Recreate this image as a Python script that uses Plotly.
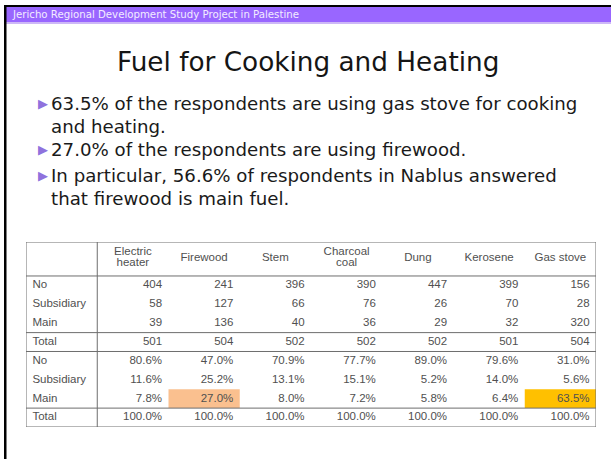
import plotly.graph_objects as go

W, H = 611, 459

# ---------------- data ----------------
banner_text = "Jericho Regional Development Study Project in Palestine"
title_text = "Fuel for Cooking and Heating"
bullet_lines = [
    ("63.5% of the respondents are using gas stove for cooking", True),
    ("and heating.", False),
    ("27.0% of the respondents are using firewood.", True),
    ("In particular, 56.6% of respondents in Nablus answered", True),
    ("that firewood is main fuel.", False),
]

fuels = ["Electric<br>heater", "Firewood", "Stem", "Charcoal<br>coal", "Dung", "Kerosene", "Gas stove"]
row_labels = ["No", "Subsidiary", "Main", "Total", "No", "Subsidiary", "Main", "Total"]

count_no = [404, 241, 396, 390, 447, 399, 156]
count_sub = [58, 127, 66, 76, 26, 70, 28]
count_main = [39, 136, 40, 36, 29, 32, 320]
count_total = [501, 504, 502, 502, 502, 501, 504]

pct_no = [80.6, 47.0, 70.9, 77.7, 89.0, 79.6, 31.0]
pct_sub = [11.6, 25.2, 13.1, 15.1, 5.2, 14.0, 5.6]
pct_main = [7.8, 27.0, 8.0, 7.2, 5.8, 6.4, 63.5]
pct_total = [100.0, 100.0, 100.0, 100.0, 100.0, 100.0, 100.0]

# highlighted cells: (fuel column index, row index, colour)
highlights = [(1, 6, "#FAC08F"), (6, 6, "#FFC000")]

# ---------------- helpers ----------------
def px(x):
    return x / W

def py(y):
    return 1 - y / H

fig = go.Figure()

# ---------------- table geometry ----------------
TBL_L, TBL_R, TBL_T, TBL_B = 26, 596, 242, 427
HEADER_H = 1.8  # header height in row units
n_rows = len(row_labels)
y_total = HEADER_H + n_rows
ncols = len(fuels) + 1
PAD = 0.09
HDR_GAP = 0.29

rows_values = [
    [str(v) for v in count_no],
    [str(v) for v in count_sub],
    [str(v) for v in count_main],
    [str(v) for v in count_total],
    ["%.1f%%" % v for v in pct_no],
    ["%.1f%%" % v for v in pct_sub],
    ["%.1f%%" % v for v in pct_main],
    ["%.1f%%" % v for v in pct_total],
]
row_y = [HEADER_H + k + 0.5 for k in range(n_rows)]

TFONT = dict(family="Liberation Sans, Arial, sans-serif", size=11.5, color="#505050")

# row labels
fig.add_trace(go.Scatter(
    x=[PAD] * n_rows, y=row_y, text=row_labels, mode="text",
    textposition="middle right", textfont=TFONT, hoverinfo="skip", showlegend=False))

# value columns
for j, fuel in enumerate(fuels):
    col_vals = [rows_values[k][j] for k in range(n_rows)]
    fig.add_trace(go.Scatter(
        x=[j + 2 - PAD] * n_rows, y=row_y, text=col_vals, mode="text",
        textposition="middle left", textfont=TFONT, hoverinfo="skip", showlegend=False))

# header labels (two-line labels set with tighter line spacing)
hx, hy, ht = [], [], []
for j, fuel in enumerate(fuels):
    parts = fuel.split("<br>")
    if len(parts) == 1:
        hx.append(j + 1.5); hy.append(HEADER_H / 2 - 0.05); ht.append(parts[0])
    else:
        for i, p in enumerate(parts):
            hx.append(j + 1.5)
            hy.append(HEADER_H / 2 + (i - 0.5) * 2 * HDR_GAP - 0.05)
            ht.append(p)
fig.add_trace(go.Scatter(
    x=hx, y=hy, text=ht, mode="text", textposition="middle center", textfont=TFONT,
    hoverinfo="skip", showlegend=False))

shapes = []
# highlighted cells
for (j, k, col) in highlights:
    shapes.append(dict(type="rect", xref="x", yref="y", x0=j + 1, x1=j + 2,
                       y0=HEADER_H + k, y1=HEADER_H + k + 1, fillcolor=col,
                       line=dict(width=0), layer="below"))

LINE = dict(color="#6e6e6e", width=1)
# outer border
shapes.append(dict(type="rect", xref="x", yref="y", x0=0, x1=ncols, y0=0, y1=y_total,
                   line=LINE, fillcolor="rgba(0,0,0,0)"))
# label column separator
shapes.append(dict(type="line", xref="x", yref="y", x0=1, x1=1, y0=0, y1=y_total, line=LINE))
# horizontal group lines
for yy in [HEADER_H, HEADER_H + 3, HEADER_H + 4, HEADER_H + 7]:
    shapes.append(dict(type="line", xref="x", yref="y", x0=0, x1=ncols, y0=yy, y1=yy, line=LINE))

# ---------------- slide decorations ----------------
# purple banner
shapes.append(dict(type="rect", xref="paper", yref="paper", x0=px(5), x1=1,
                   y0=py(22), y1=py(7), fillcolor="#9966FF", line=dict(width=0)))
shapes.append(dict(type="rect", xref="paper", yref="paper", x0=px(5), x1=1,
                   y0=py(24), y1=py(22), fillcolor="#CDB8F7", line=dict(width=0)))
# black frame: top and left
shapes.append(dict(type="rect", xref="paper", yref="paper", x0=px(4), x1=1,
                   y0=py(7), y1=py(5), fillcolor="#000000", line=dict(width=0)))
shapes.append(dict(type="rect", xref="paper", yref="paper", x0=px(4), x1=px(6.5),
                   y0=0, y1=py(5), fillcolor="#000000", line=dict(width=0)))

annotations = []
annotations.append(dict(text=banner_text, xref="paper", yref="paper", x=px(10), y=py(14.5),
                        xanchor="left", yanchor="middle", showarrow=False,
                        font=dict(family="DejaVu Sans", size=10.2, color="#F3ECFF")))
annotations.append(dict(text=title_text, xref="paper", yref="paper", x=px(308), y=py(62),
                        xanchor="center", yanchor="middle", showarrow=False,
                        font=dict(family="DejaVu Sans", size=26.3, color="#151515")))

line_ys = [103, 126, 150, 175, 198]
for (txt, has_bullet), yy in zip(bullet_lines, line_ys):
    annotations.append(dict(text=txt, xref="paper", yref="paper", x=px(49), y=py(yy),
                            xanchor="left", yanchor="middle", showarrow=False,
                            font=dict(family="DejaVu Sans", size=18.2, color="#1a1a1a")))
    if has_bullet:
        annotations.append(dict(text="▶", xref="paper", yref="paper", x=px(36), y=py(yy),
                                xanchor="left", yanchor="middle", showarrow=False,
                                font=dict(family="DejaVu Sans", size=13, color="#8F72DD")))

fig.update_layout(
    width=W, height=H, autosize=False,
    margin=dict(l=0, r=0, t=0, b=0),
    paper_bgcolor="white", plot_bgcolor="rgba(0,0,0,0)",
    xaxis=dict(domain=[px(TBL_L), px(TBL_R)], range=[0, ncols], visible=False, fixedrange=True),
    yaxis=dict(domain=[py(TBL_B), py(TBL_T)], range=[y_total, 0], visible=False, fixedrange=True),
    shapes=shapes, annotations=annotations, showlegend=False,
)

fig.write_html(
    "out.html",
    config={"displayModeBar": False},
    post_script="document.body.style.margin='0';document.body.style.overflow='hidden';",
)
